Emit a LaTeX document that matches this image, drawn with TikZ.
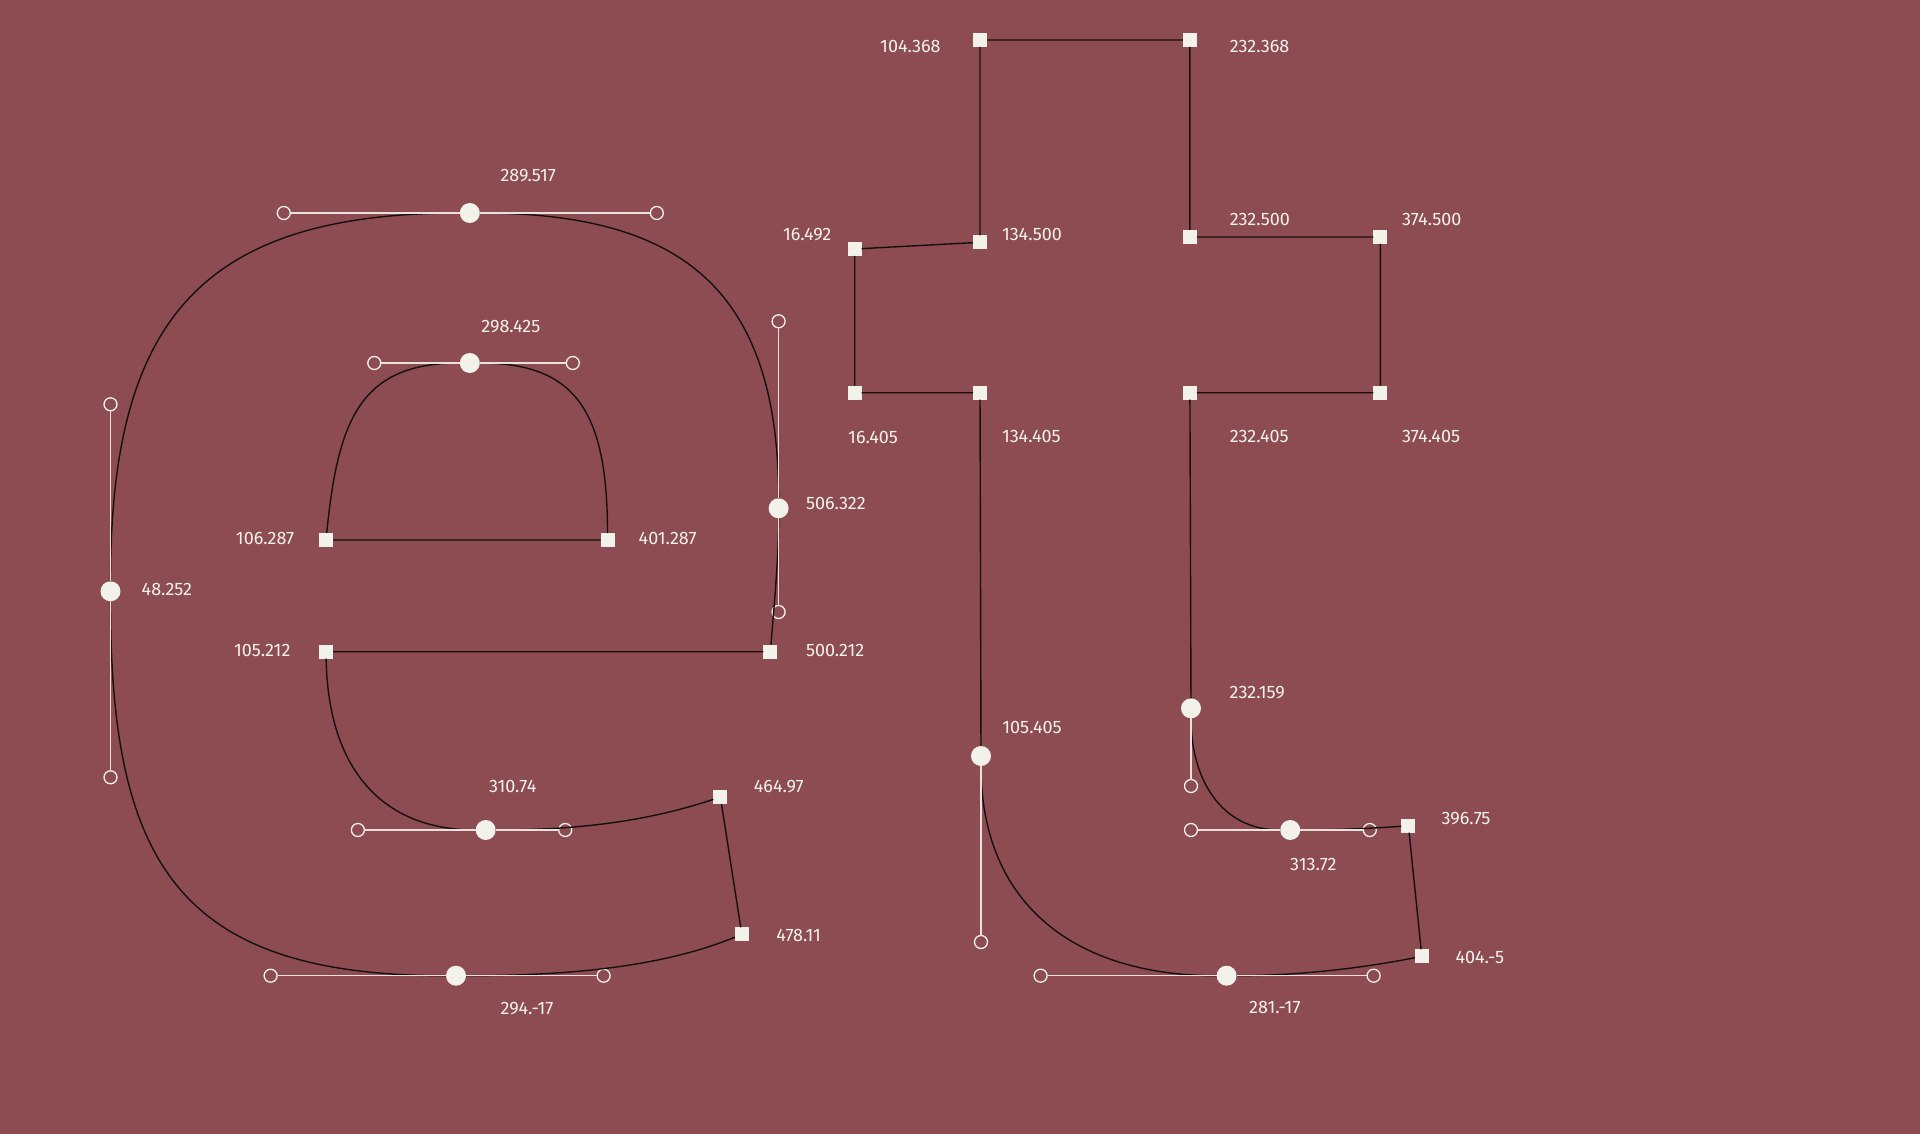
\documentclass[tikz,border=0pt]{standalone}
\usepackage{fontspec}
\setmainfont{Fira Sans}
\usetikzlibrary{positioning}

\definecolor{bgred}{HTML}{8C4C52}
\definecolor{cream}{HTML}{F3F2EA}
\definecolor{ink}{HTML}{15100F}

\tikzset{
    curvept/.style = {circle, fill=cream, inner sep=0pt, outer sep=0pt, minimum size=20pt, on grid},
    cornerpt/.style = {rectangle, fill=cream, inner sep=0pt, outer sep=0pt, minimum size=14pt, on grid},
    handlept/.style = {circle, draw=cream, line width=1.3pt, inner sep=0pt, outer sep=0pt, minimum size=13pt, on grid},
    numlbl/.style = {text=cream, inner sep=0pt, outer sep=0pt, font=\fontsize{18}{18}\selectfont},
    outline/.style = {draw=ink, line width=1.4pt},
    handleline/.style = {draw=cream!90!bgred, line width=1.2pt}
}

\begin{document}
\begin{tikzpicture} [x=1pt, y=-1pt]

            \fill [bgred] (0,0) rectangle (1920,1134);
            \useasboundingbox (0,0) rectangle (1920,1134);

            % Point e0
            \node (e0) [curvept] at (110.5,591.3) {};
            \node (e0a) [handlept, above = 187pt of e0] {};
            \node (e0b) [handlept, below = 186pt of e0] {};
            \node (e0l) [numlbl, right = 31.2pt of e0.center, yshift=2pt] {48.252};

            % Point e1
            \node (e1) [curvept, above right = 378.3pt and 359.3pt of e0] {};
            \node (e1a) [handlept, left = 186pt of e1] {};
            \node (e1b) [handlept, right = 187pt of e1] {};
            \node (e1l) [numlbl, right = 30.7pt of e1.center, yshift=37pt] {289.517};

            % Point e2
            \node (e2) [curvept, below right = 295.3pt and 308.8pt of e1] {};
            \node (e2a) [handlept, above = 187pt of e2] {};
            \node (e2b) [handlept, below = 103.7pt of e2] {};
            \node (e2l) [numlbl, right = 27.4pt of e2.center, yshift=4.6pt] {506.322};

            % Point e3
            \node (e3) [cornerpt, below left = 143.4pt and 8.2pt of e2] {};
            \node (e3l) [numlbl, right = 35.6pt of e3.center, yshift=1pt] {500.212};

            % Point e4
            \node (e4) [cornerpt, left = 444.4pt of e3] {};
            \node (e4l) [numlbl, left = 35.6pt of e4.center, yshift=1pt] {105.212};

            % Point e5
            \node (e5) [cornerpt, above = 111.7pt of e4] {};
            \node (e5l) [numlbl, left = 31.8pt of e5.center, yshift=1.3pt] {106.287};

            % Point e6
            \node (e6) [cornerpt, right = 281.5pt of e5] {};
            \node (e6l) [numlbl, right = 31.2pt of e6.center, yshift=1.3pt] {401.287};

            % Point e7
            \node (e7) [curvept, above right = 177pt and 143.8pt of e5] {};
            \node (e7a) [handlept, left = 95.5pt of e7] {};
            \node (e7b) [handlept, right = 103pt of e7] {};
            \node (e7l) [numlbl, right = 11.5pt of e7.center, yshift=36.7pt] {298.425};

            % Point e8
            \node (e8) [curvept, below right = 178.3pt and 159.7pt of e4] {};
            \node (e8a) [handlept, left = 127.8pt of e8] {};
            \node (e8b) [handlept, right = 79.5pt of e8] {};
            \node (e8l) [numlbl, right = 3.3pt of e8.center, yshift=43.7pt] {310.74};

            % Point e9
            \node (e9) [cornerpt, above right = 33pt and 234.7pt of e8] {};
            \node (e9l) [numlbl, right = 33.5pt of e9.center, yshift=10.7pt] {464.97};

            % Point e10
            \node (e10) [cornerpt, below right = 137.3pt and 21.4pt of e9] {};
            \node (e10l) [numlbl, right = 34.6pt of e10.center, yshift=-1pt] {478.11};

            % Point e11
            \node (e11) [curvept, below left = 41.4pt and 285.8pt of e10] {};
            \node (e11a) [handlept, left = 185.4pt of e11] {};
            \node (e11b) [handlept, right = 147.6pt of e11] {};
            \node (e11l) [numlbl, right = 44.5pt of e11.center, yshift=-32.6pt] {294.-17};

            % Point t0
            \node (t0) [cornerpt] at (980,40) {};
            \node (t0l) [numlbl, left = 39.4pt of t0.center, yshift=-6pt] {104.368};

            % Point t1
            \node (t1) [cornerpt, right = 209.9pt of t0] {};
            \node (t1l) [numlbl, right = 39.9pt of t1.center, yshift=-6pt] {232.368};

            % Point t2
            \node (t2) [cornerpt, below = 202.3pt of t0] {};
            \node (t2l) [numlbl, right = 22pt of t2.center, yshift=7.6pt] {134.500};

            % Point t3
            \node (t3) [cornerpt, below left = 6.7pt and 125.3pt of t2] {};
            \node (t3l) [numlbl, left = 23.4pt of t3.center, yshift=14.3pt] {16.492};

            % Point t4
            \node (t4) [cornerpt, below = 143.7pt of t3] {};
            \node (t4l) [numlbl, right = -6.5pt of t4.center, yshift=-44.3pt] {16.405};

            % Point t5
            \node (t5) [cornerpt, right = 125.3pt of t4] {};
            \node (t5l) [numlbl, right = 22pt of t5.center, yshift=-44pt] {134.405};

            % Point t6
            \node (t6) [curvept, below right = 363.3pt and 1pt of t5] {};
            \node (t6a) [handlept, below = 186pt of t6] {};
            \node (t6l) [numlbl, right = 21.4pt of t6.center, yshift=28.3pt] {105.405};

            % Point t7
            \node (t7) [cornerpt, below = 197pt of t1] {};
            \node (t7l) [numlbl, right = 39.9pt of t7.center, yshift=18pt] {232.500};

            % Point t8
            \node (t8) [cornerpt, right = 190.4pt of t7] {};
            \node (t8l) [numlbl, right = 21.7pt of t8.center, yshift=18pt] {374.500};

            % Point t9
            \node (t9) [cornerpt, below = 155.7pt of t8] {};
            \node (t9l) [numlbl, right = 21.7pt of t9.center, yshift=-44pt] {374.405};

            % Point t10
            \node (t10) [cornerpt, left = 190.4pt of t9] {};
            \node (t10l) [numlbl, right = 39.9pt of t10.center, yshift=-44pt] {232.405};

            % Point t11
            \node (t11) [curvept, below right = 315.6pt and 1.1pt of t10] {};
            \node (t11a) [handlept, below = 77.7pt of t11] {};
            \node (t11l) [numlbl, right = 38.7pt of t11.center, yshift=15.6pt] {232.159};

            % Point t12
            \node (t12) [curvept, below right = 121.7pt and 99.2pt of t11] {};
            \node (t12a) [handlept, left = 99.2pt of t12] {};
            \node (t12b) [handlept, right = 79.6pt of t12] {};
            \node (t12l) [numlbl, right = 0pt of t12.center, yshift=-34.3pt] {313.72};

            % Point t13
            \node (t13) [cornerpt, above right = 4.3pt and 118.2pt of t12] {};
            \node (t13l) [numlbl, right = 33.3pt of t13.center, yshift=6.7pt] {396.75};

            % Point t14
            \node (t14) [cornerpt, below right = 130.6pt and 13.4pt of t13] {};
            \node (t14l) [numlbl, right = 33.7pt of t14.center, yshift=-1.4pt] {404.-5};

            % Point t15
            \node (t15) [curvept, below left = 19.4pt and 195.2pt of t14] {};
            \node (t15a) [handlept, left = 186pt of t15] {};
            \node (t15b) [handlept, right = 147pt of t15] {};
            \node (t15l) [numlbl, right = 22.6pt of t15.center, yshift=-32pt] {281.-17};

            % Outline of e
            \path [outline]
                (e0) .. controls +(0,-270) and +(-270,0) .. (e1)
                (e1) .. controls +(205,0) and +(0,-225) .. (e2)
                (e2) .. controls +(0,50) and +(4,-50) .. (e3)
                (e3) -- (e4)
                (e4) .. controls +(2,118) and +(-103,0) .. (e8)
                (e8) .. controls +(90,0) and +(-75,25) .. (e9)
                (e9) -- (e10)
                (e10) .. controls +(-85,35) and +(100,0) .. (e11)
                (e11) .. controls +(-275,0) and +(0,275) .. (e0)
                (e5) -- (e6)
                (e5) .. controls +(12,-120) and +(-110,0) .. (e7)
                (e7) .. controls +(105,0) and +(0,-130) .. (e6);

            % Outline of t
            \path [outline]
                (t0) -- (t1)
                (t1) -- (t7)
                (t7) -- (t8)
                (t8) -- (t9)
                (t9) -- (t10)
                (t10) -- (t11)
                (t11) .. controls +(0,70) and +(-70,0) .. (t12)
                (t12) .. controls +(40,0) and +(-40,3) .. (t13)
                (t13) -- (t14)
                (t14) .. controls +(-60,12) and +(70,0) .. (t15)
                (t15) .. controls +(-150,0) and +(0,150) .. (t6)
                (t6) -- (t5)
                (t5) -- (t4)
                (t4) -- (t3)
                (t3) -- (t2)
                (t2) -- (t0);

            % Handles
            \path [handleline]
                (e0a) -- (e0)
                (e0) -- (e0b)
                (e1a) -- (e1)
                (e1) -- (e1b)
                (e2a) -- (e2)
                (e2) -- (e2b)
                (e7a) -- (e7)
                (e7) -- (e7b)
                (e8a) -- (e8)
                (e8) -- (e8b)
                (e11a) -- (e11)
                (e11) -- (e11b)
                (t6) -- (t6a)
                (t11) -- (t11a)
                (t12a) -- (t12)
                (t12) -- (t12b)
                (t15a) -- (t15)
                (t15) -- (t15b);
        \end{tikzpicture}
\end{document}
